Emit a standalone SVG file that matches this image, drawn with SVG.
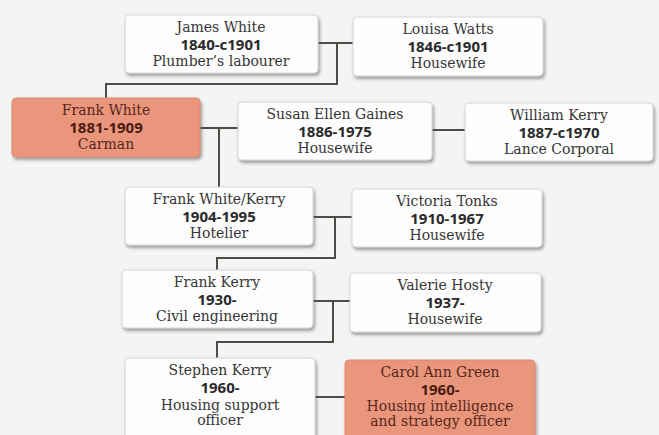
<svg xmlns="http://www.w3.org/2000/svg" width="659" height="435" viewBox="0 0 659 435">
<defs>
<filter id="sh" x="-10%" y="-20%" width="125%" height="150%">
<feDropShadow dx="1.5" dy="2.5" stdDeviation="1.5" flood-color="#555" flood-opacity="0.55"/>
</filter>
<style>
.box{fill:#fdfdfd;stroke:#d6d6d6;stroke-width:1;filter:url(#sh)}
.hl{fill:#e9967d;stroke:#dc8b73;stroke-width:1;filter:url(#sh)}
text{text-anchor:middle;fill:#363636}
.n{font-family:"DejaVu Serif","Liberation Serif",serif;font-size:14px}
.d{font-family:"Open Sans","Liberation Sans",sans-serif;font-size:15px;font-weight:700;fill:#2a2a2a}
.r text{fill:#5a2619}
.r .d{fill:#4a1c12}
#connectors path{fill:none;stroke:#4d4d45;stroke-width:2}
</style>
</defs>
<rect width="659" height="435" fill="#f3f5f5"/>
<g id="connectors">
<path d="M318 43H353M337 43V84H106V98"/>
<path d="M200 128H238M219 128V187"/>
<path d="M432 130H465"/>
<path d="M313 217H352M335 217V258H217V270"/>
<path d="M313 301H350M333 301V342H217V358"/>
<path d="M315 397H345"/>
</g>
<g id="james">
<rect class="box" x="125" y="15" width="193" height="58" rx="4"/>
<text class="n" x="221" y="32">James White</text>
<text class="d" x="221" y="50">1840-c1901</text>
<text class="n" x="221" y="66">Plumber’s labourer</text>
</g>
<g id="louisa">
<rect class="box" x="353" y="17" width="190" height="59" rx="4"/>
<text class="n" x="448" y="34">Louisa Watts</text>
<text class="d" x="448" y="52">1846-c1901</text>
<text class="n" x="448" y="68">Housewife</text>
</g>
<g id="frankwhite" class="r">
<rect class="hl" x="12" y="98" width="188" height="59" rx="4"/>
<text class="n" x="106" y="115">Frank White</text>
<text class="d" x="106" y="133">1881-1909</text>
<text class="n" x="106" y="149">Carman</text>
</g>
<g id="susan">
<rect class="box" x="238" y="102" width="194" height="58" rx="4"/>
<text class="n" x="335" y="119">Susan Ellen Gaines</text>
<text class="d" x="335" y="137">1886-1975</text>
<text class="n" x="335" y="153">Housewife</text>
</g>
<g id="william">
<rect class="box" x="465" y="103" width="188" height="58" rx="4"/>
<text class="n" x="559" y="120">William Kerry</text>
<text class="d" x="559" y="138">1887-c1970</text>
<text class="n" x="559" y="154">Lance Corporal</text>
</g>
<g id="frankwk">
<rect class="box" x="125" y="187" width="188" height="58" rx="4"/>
<text class="n" x="219" y="204">Frank White/Kerry</text>
<text class="d" x="219" y="222">1904-1995</text>
<text class="n" x="219" y="238">Hotelier</text>
</g>
<g id="victoria">
<rect class="box" x="352" y="189" width="190" height="58" rx="4"/>
<text class="n" x="447" y="206">Victoria Tonks</text>
<text class="d" x="447" y="224">1910-1967</text>
<text class="n" x="447" y="240">Housewife</text>
</g>
<g id="frankkerry">
<rect class="box" x="122" y="270" width="191" height="58" rx="4"/>
<text class="n" x="217" y="287">Frank Kerry</text>
<text class="d" x="217" y="305">1930-</text>
<text class="n" x="217" y="321">Civil engineering</text>
</g>
<g id="valerie">
<rect class="box" x="350" y="273" width="191" height="59" rx="4"/>
<text class="n" x="445" y="290">Valerie Hosty</text>
<text class="d" x="445" y="308">1937-</text>
<text class="n" x="445" y="324">Housewife</text>
</g>
<g id="stephen">
<rect class="box" x="125" y="358" width="190" height="85" rx="4"/>
<text class="n" x="220" y="375">Stephen Kerry</text>
<text class="d" x="220" y="393">1960-</text>
<text class="n" x="220" y="410">Housing support</text>
<text class="n" x="220" y="425">officer</text>
</g>
<g id="carol" class="r">
<rect class="hl" x="345" y="360" width="190" height="85" rx="4"/>
<text class="n" x="440" y="377">Carol Ann Green</text>
<text class="d" x="440" y="395">1960-</text>
<text class="n" x="440" y="411">Housing intelligence</text>
<text class="n" x="440" y="426">and strategy officer</text>
</g>
</svg>
